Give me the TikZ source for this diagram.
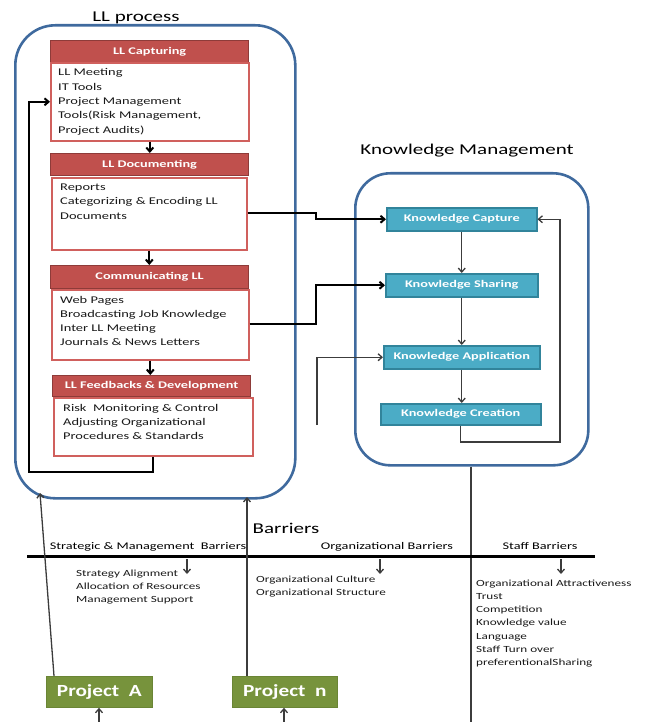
\documentclass[tikz,border=0pt]{standalone}
\usepackage{fontspec}
\usepackage{graphicx}
\setmainfont{Carlito}
\usetikzlibrary{arrows.meta}
\definecolor{hdred}{HTML}{C0504D}
\definecolor{hdredd}{HTML}{8E3B39}
\definecolor{bdred}{HTML}{D0605D}
\definecolor{teal}{HTML}{4BACC6}
\definecolor{teald}{HTML}{31849B}
\definecolor{grn}{HTML}{77933C}
\definecolor{grnd}{HTML}{6A8535}
\definecolor{cblue}{HTML}{3F6A9E}
\definecolor{gln}{HTML}{3C3C3C}
\newcommand{\hs}[1]{\scalebox{1.4}[1]{#1}}
\newcommand{\lst}[1]{\hs{\begin{tabular}[t]{@{}l@{}}#1\end{tabular}}}
\tikzset{
  container/.style={draw=cblue, line width=2.6pt, rounded corners=#1, anchor=north west, inner sep=0pt},
  hdr/.style={draw=hdredd, fill=hdred, line width=1.2pt, anchor=north west, inner sep=0pt, text=white, font=\fontsize{10.2}{12}\bfseries\selectfont},
  bodybox/.style={draw=bdred, fill=white, line width=1.6pt, anchor=north west, inner sep=0pt},
  kmbox/.style={draw=teald, fill=teal, line width=1.5pt, anchor=north west, inner sep=0pt, text=white, font=\fontsize{10.2}{12}\bfseries\selectfont},
  projbox/.style={draw=grnd, fill=grn, line width=0.8pt, anchor=north west, inner sep=0pt, text=white, font=\fontsize{17}{20}\bfseries\selectfont},
  txt/.style={anchor=base west, inner sep=0pt, text=black!90},
  arr/.style={black, line width=2pt, -{Straight Barb[length=4pt,width=7pt]}},
  garr/.style={gln, line width=1.3pt, -{Straight Barb[length=4pt,width=7pt]}},
  gline/.style={gln, line width=1.3pt},
  ttl/.style={anchor=base, inner sep=0pt, font=\fontsize{15}{18}\selectfont},
  blabel/.style={anchor=base, inner sep=0pt, font=\fontsize{10.2}{12}\selectfont}
}
\begin{document}
\begin{tikzpicture}[x=1pt,y=-1pt]
\useasboundingbox (0,0) rectangle (647,722);
% titles
\node[ttl] (lltitle) at (136,22) {\hs{LL process}};
\node[ttl] (kmtitle) at (467,155) {\hs{Knowledge Management}};
% containers
\node[container=40pt, minimum width=280pt, minimum height=473pt] (ll) at (14,24) {};
\node[container=35pt, minimum width=233pt, minimum height=292pt] (km) at (354,172) {};
% LL process boxes
\node[hdr, minimum width=198pt, minimum height=22pt] (caph) at (50,40) {\hs{LL Capturing}};
\node[bodybox, minimum width=198pt, minimum height=78pt] (capb) at (50,62) {};
\node[hdr, minimum width=198pt, minimum height=22pt] (doch) at (50,153) {\hs{LL Documenting}};
\node[bodybox, minimum width=195pt, minimum height=72pt] (docb) at (51,177) {};
\node[hdr, minimum width=198pt, minimum height=23pt] (comh) at (50,265) {\hs{Communicating LL}};
\node[bodybox, minimum width=197pt, minimum height=70pt] (comb) at (51,289) {};
\node[hdr, minimum width=198pt, minimum height=21pt] (fbh) at (52,375) {\hs{LL Feedbacks \& Development}};
\node[bodybox, minimum width=199pt, minimum height=58pt] (fbb) at (53,397) {};
% body texts
\node[txt, font=\fontsize{10.3}{14.3}\selectfont] (capt) at (58,76) {\lst{LL Meeting\\IT Tools\\Project Management\\Tools(Risk Management,\\Project Audits)}};
\node[txt, font=\fontsize{10.3}{14.5}\selectfont] (doct) at (60,190) {\lst{Reports\\Categorizing \& Encoding LL\\Documents}};
\node[txt, font=\fontsize{10.3}{14.3}\selectfont] (comt) at (60,303) {\lst{Web Pages\\Broadcasting Job Knowledge\\Inter LL Meeting\\Journals \& News Letters}};
\node[txt, font=\fontsize{10.3}{14}\selectfont] (fbt) at (63,411) {\lst{Risk\ \ Monitoring \& Control\\Adjusting Organizational\\Procedures \& Standards}};
% KM boxes
\node[kmbox, minimum width=150pt, minimum height=23pt] (kc) at (386,207) {\hs{Knowledge Capture}};
\node[kmbox, minimum width=152pt, minimum height=23pt] (ks) at (385,273) {\hs{Knowledge Sharing}};
\node[kmbox, minimum width=156pt, minimum height=23pt] (ka) at (383,345) {\hs{Knowledge Application}};
\node[kmbox, minimum width=160pt, minimum height=21pt] (kcr) at (380,403) {\hs{Knowledge Creation}};
% LL connectors
\draw[arr] (capb.south) -- (capb.south |- doch.north);
\draw[arr] (docb.south) -- (docb.south |- comh.north);
\draw[arr] (comb.south) -- (comb.south |- fbh.north);
\coordinate (lp) at (29,472);
\draw[arr] (fbb.south) |- (lp) |- (capb.west);
% LL -> KM
\coordinate (j1) at (316,213);
\draw[arr] (docb.east |- j1) -- (j1) |- (kc.west);
\coordinate (j2) at (316,324);
\draw[arr] (comb.east |- j2) -- (j2) |- (ks.west);
\coordinate (g0) at (317,425);
\draw[garr] (g0) |- (ka.west);
% KM connectors
\draw[garr] (kc.south) -- (kc.south |- ks.north);
\draw[garr] (ks.south) -- (ks.south |- ka.north);
\draw[garr] (ka.south) -- (ka.south |- kcr.north);
\coordinate (k1) at (560,442);
\draw[garr] (kcr.south) |- (k1) |- (kc.east);
\coordinate (kmb) at (471,722);
\draw[gline] (km.south -| kmb) -- (kmb);
% Barriers
\node[ttl] (barr) at (286,533) {\hs{Barriers}};
\coordinate (bl) at (27,556);
\coordinate (br) at (595,556);
\draw[black, line width=3pt] (bl) -- (br);
\node[blabel] (sb) at (148,549) {\hs{Strategic \& Management\ \ Barriers}};
\node[blabel] (ob) at (387,549) {\hs{Organizational Barriers}};
\node[blabel] (stb) at (540,549) {\hs{Staff Barriers}};
\coordinate (a1s) at (187,559); \coordinate (a1e) at (187,574);
\coordinate (a2s) at (380,559); \coordinate (a2e) at (380,574);
\coordinate (a3s) at (561,559); \coordinate (a3e) at (561,574);
\draw[garr] (a1s) -- (a1e);
\draw[garr] (a2s) -- (a2e);
\draw[garr] (a3s) -- (a3e);
\node[txt, font=\fontsize{9.4}{13}\selectfont] (sl) at (76,576) {\lst{Strategy Alignment\\Allocation of Resources\\Management Support}};
\node[txt, font=\fontsize{9.4}{13}\selectfont] (ol) at (256,582) {\lst{Organizational Culture\\Organizational Structure}};
\node[txt, font=\fontsize{9.4}{13.3}\selectfont] (stl) at (476,586) {\lst{Organizational Attractiveness\\Trust\\Competition\\Knowledge value\\Language\\Staff Turn over\\preferentionalSharing}};
% Projects
\node[projbox, minimum width=106pt, minimum height=31pt] (pa) at (46,676) {\scalebox{1.25}[1]{Project\ \ A}};
\node[projbox, minimum width=105pt, minimum height=31pt] (pn) at (232,676) {\scalebox{1.25}[1]{Project\ \ n}};
\coordinate (lla) at (40,493);
\coordinate (lln) at (247,497);
\draw[garr] ([xshift=8pt]pa.north west) -- (lla);
\draw[garr] ([xshift=15pt]pn.north west) -- (lln);
\coordinate (pab) at (99,722);
\coordinate (pnb) at (284,722);
\draw[garr] (pab) -- (pab |- pa.south);
\draw[garr] (pnb) -- (pnb |- pn.south);
\end{tikzpicture}
\end{document}
